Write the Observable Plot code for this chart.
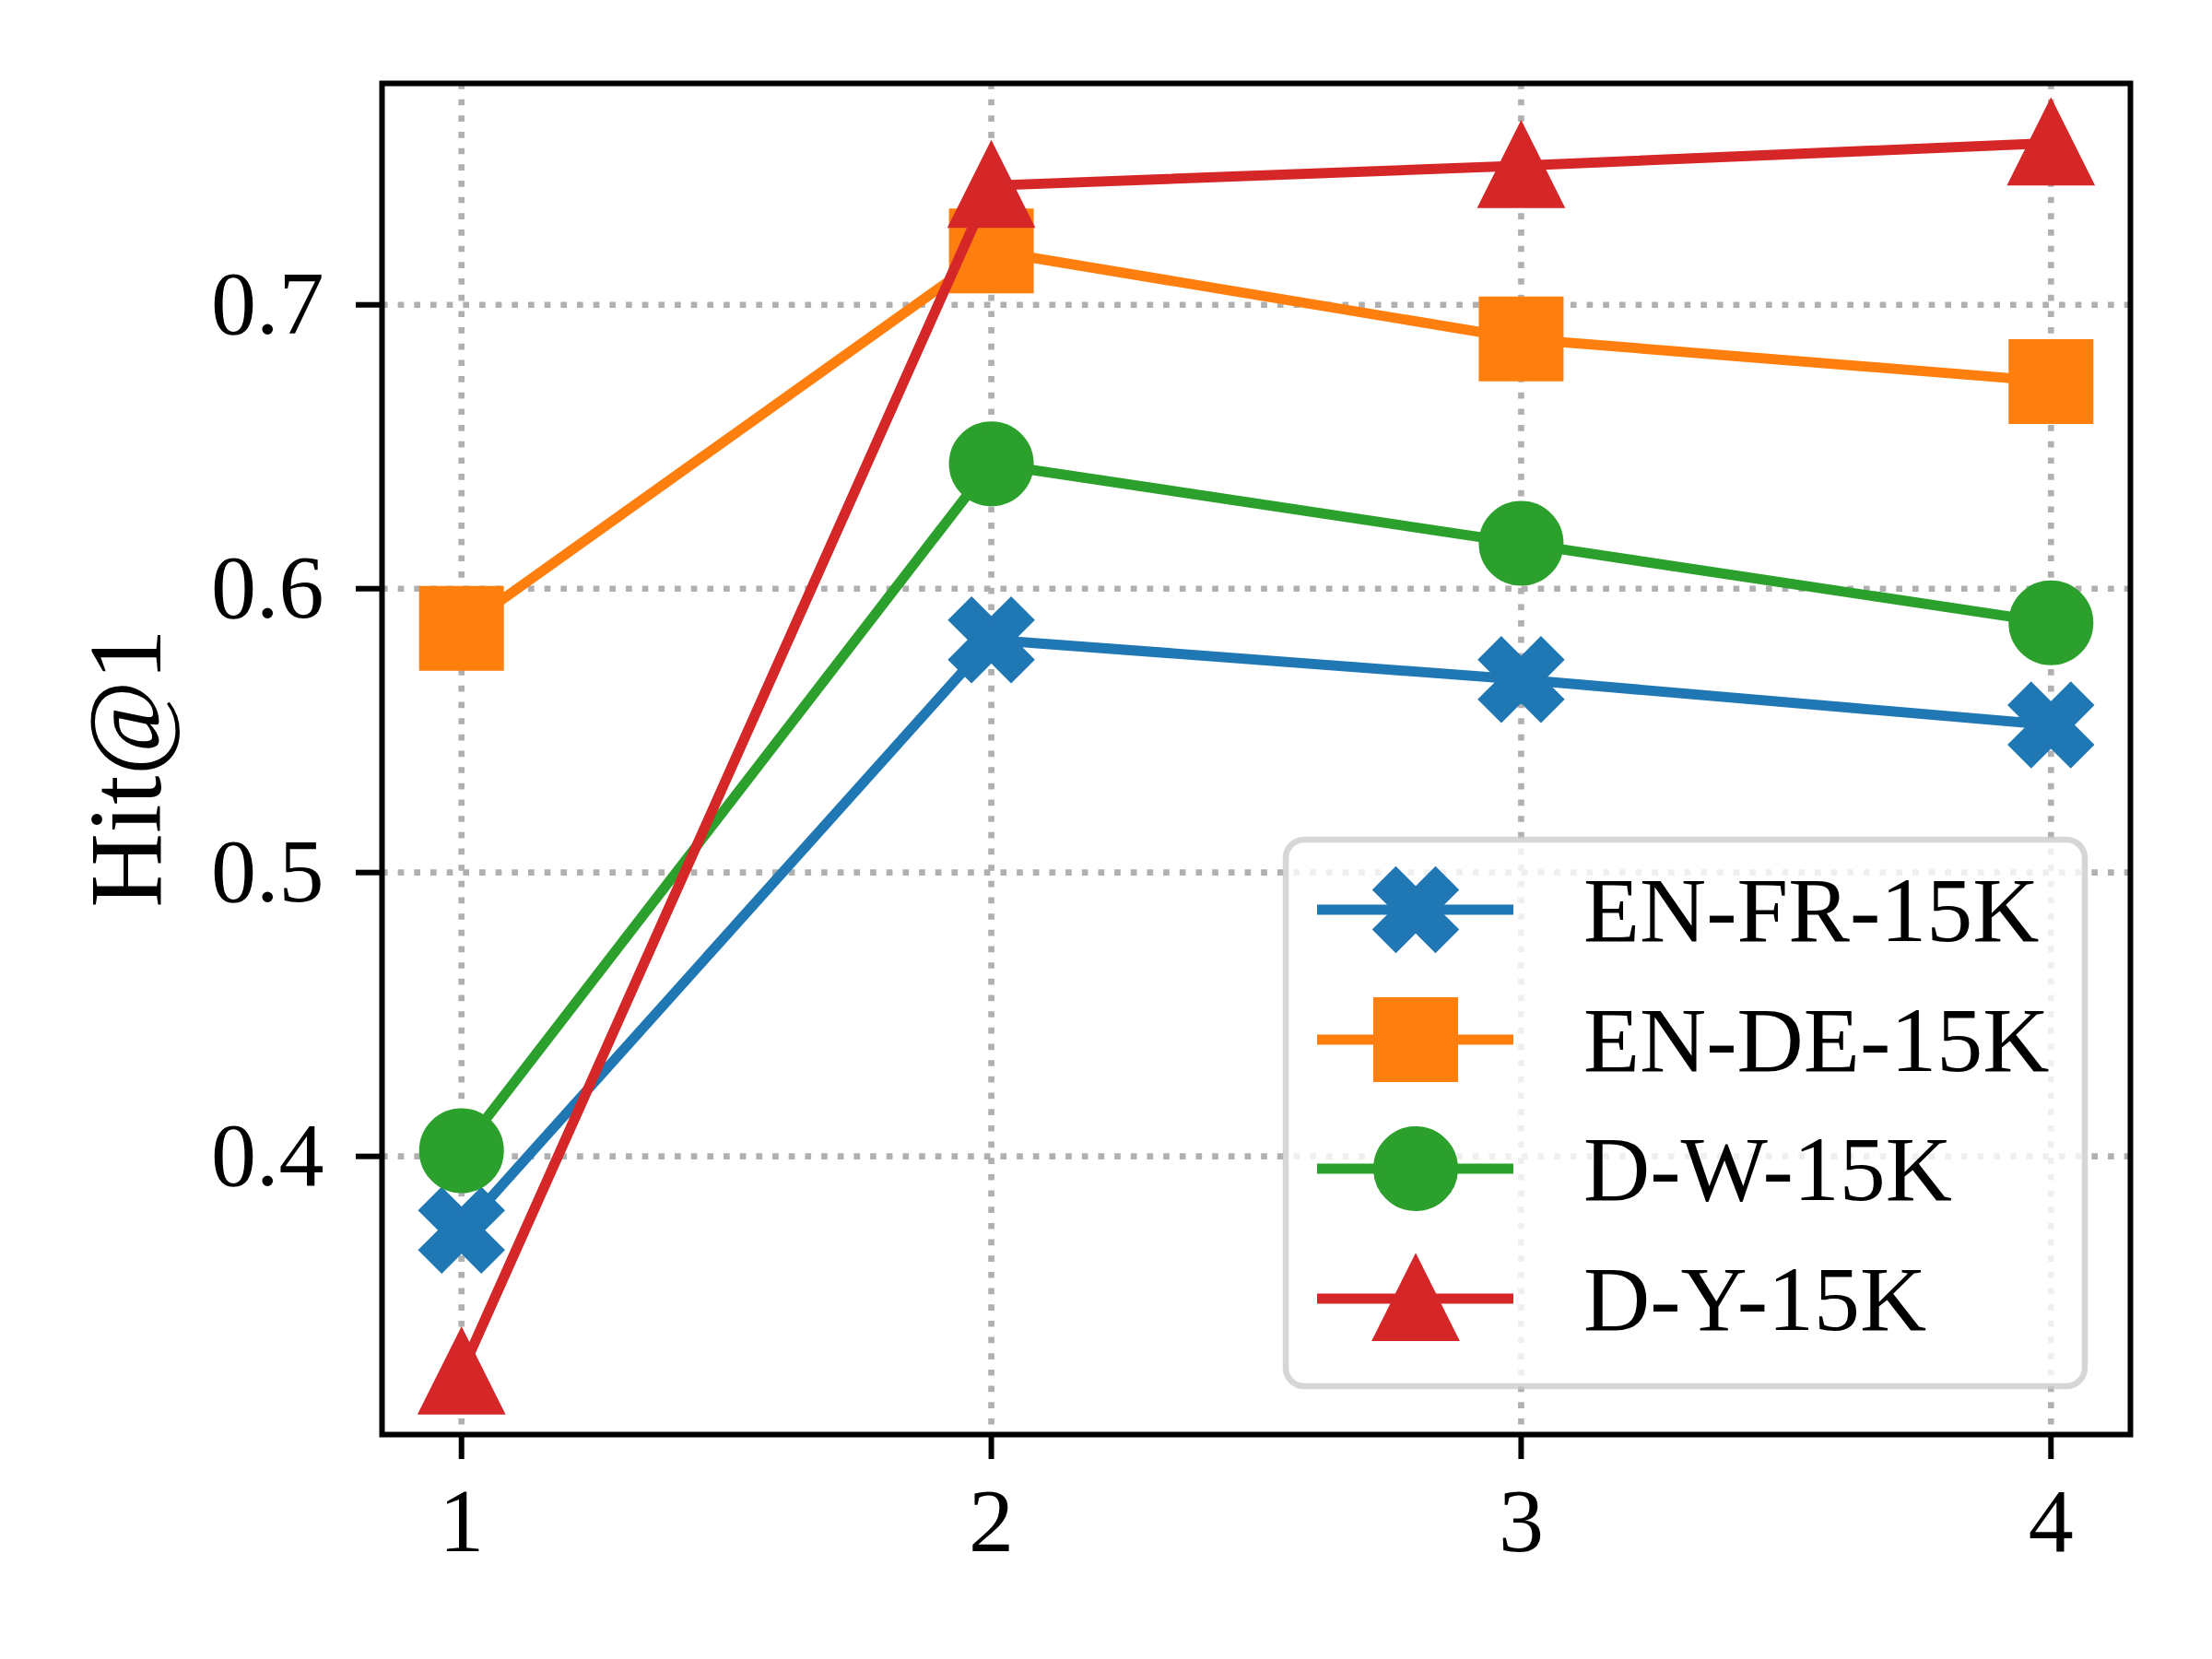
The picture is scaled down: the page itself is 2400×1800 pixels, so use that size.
<!DOCTYPE html>
<html><head><meta charset="utf-8">
<script src="https://cdn.jsdelivr.net/npm/d3@7"></script>
<script src="https://cdn.jsdelivr.net/npm/@observablehq/plot@0.6"></script>
<style>
html,body{margin:0;padding:0;background:#fff;}
#chart{position:relative;width:2400px;height:1800px;}
#chart svg{display:block;}
#legend{position:absolute;left:0;top:0;pointer-events:none;}
</style></head>
<body><div id="chart"></div>
<script>
// ---- data ----
const xValues = [1, 2, 3, 4];
const seriesNames = ["EN-FR-15K", "EN-DE-15K", "D-W-15K", "D-Y-15K"];
const enFr = [0.374, 0.582, 0.568, 0.552];
const enDe = [0.586, 0.719, 0.688, 0.673];
const dW   = [0.402, 0.644, 0.616, 0.588];
const dY   = [0.324, 0.742, 0.749, 0.757];
const yTicks = [0.4, 0.5, 0.6, 0.7];
const yLabel = "Hit@1";
const colors = ["#1f77b4", "#ff7f0e", "#2ca02c", "#d62728"];

const seriesValues = [enFr, enDe, dW, dY];
const FONT = '"Liberation Serif", "Times New Roman", Times, serif';

// ---- marker symbols (matplotlib-like: X, s, o, ^) ----
const M = 86;
function poly(pts) {
  return {draw(ctx) {
    pts.forEach(([x, y], i) => i ? ctx.lineTo(x * M, y * M) : ctx.moveTo(x * M, y * M));
    ctx.closePath();
  }};
}
const xSym = poly([[-1,-2],[0,-1],[1,-2],[2,-1],[1,0],[2,1],[1,2],[0,1],[-1,2],[-2,1],[-1,0],[-2,-1]].map(([x,y]) => [x/4, y/4]));
const sqSym = poly([[-.5,-.5],[.5,-.5],[.5,.5],[-.5,.5]]);
const triSym = poly([[0,-.5],[-.5,.5],[.5,.5]]);
const circSym = {draw(ctx) { ctx.moveTo(M/2, 0); ctx.arc(0, 0, M/2, 0, 2 * Math.PI); ctx.closePath(); }};
const symbols = [xSym, sqSym, circSym, triSym];

const rows = seriesNames.map((name, k) => xValues.map((x, i) => ({series: name, x, y: seriesValues[k][i]})));

const seriesMarks = rows.flatMap((d, k) => [
  Plot.line(d, {x: "x", y: "y", stroke: colors[k], strokeWidth: 11, strokeLinecap: "butt", strokeLinejoin: "round"}),
  Plot.dot(d, {x: "x", y: "y", symbol: symbols[k], r: 40, fill: colors[k], stroke: colors[k], strokeWidth: 6, strokeLinejoin: "miter"})
]);

const gridStyle = {stroke: "#b0b0b0", strokeOpacity: 1, strokeWidth: 6.67, strokeDasharray: "6.67,11"};

const chart = Plot.plot({
  width: 2400, height: 1800,
  marginLeft: 414, marginRight: 89, marginTop: 90, marginBottom: 244,
  style: {fontFamily: FONT, fontSize: "98px", background: "white", color: "black", overflow: "visible"},
  x: {domain: [0.85, 4.15]},
  y: {domain: [0.302, 0.778]},
  marks: [
    Plot.gridX(xValues, gridStyle),
    Plot.gridY(yTicks, gridStyle),
    ...seriesMarks,
    Plot.frame({stroke: "black", strokeWidth: 6}),
    Plot.axisX(xValues, {tickSize: 27, tickPadding: 30, strokeWidth: 6, fontSize: 98, label: null, tickFormat: d => String(d)}),
    Plot.axisY(yTicks, {tickSize: 28, tickPadding: 35, strokeWidth: 6, fontSize: 98, label: null, tickFormat: d3.format(".1f")}),
    Plot.text([yLabel], {frameAnchor: "left", rotate: -90, dx: -241, dy: 10, fontSize: 112, lineAnchor: "bottom", textAnchor: "middle", fill: "black"})
  ]
});
const container = document.getElementById("chart");
container.appendChild(chart);

// ---- legend overlay ----
const lg = d3.select(container).append("svg").attr("id", "legend")
  .attr("width", 2400).attr("height", 1800).style("font-family", FONT);
lg.append("rect").attr("x", 1395).attr("y", 911).attr("width", 867).attr("height", 593)
  .attr("rx", 20).attr("fill", "white").attr("fill-opacity", 0.8)
  .attr("stroke", "#cccccc").attr("stroke-opacity", 0.8).attr("stroke-width", 6.5);
const rowY = [987, 1128, 1268, 1409];
seriesNames.forEach((name, k) => {
  const g = lg.append("g").attr("transform", `translate(0,${rowY[k]})`);
  g.append("line").attr("x1", 1429).attr("x2", 1642).attr("y1", 0).attr("y2", 0)
    .attr("stroke", colors[k]).attr("stroke-width", 11);
  const p = d3.path(); symbols[k].draw(p);
  g.append("path").attr("d", p.toString()).attr("transform", "translate(1536,0)")
    .attr("fill", colors[k]).attr("stroke", colors[k]).attr("stroke-width", 6).attr("stroke-linejoin", "miter");
  g.append("text").attr("x", 1718).attr("y", 34).attr("font-size", 100).attr("fill", "black").text(name);
});
</script>
</body></html>
